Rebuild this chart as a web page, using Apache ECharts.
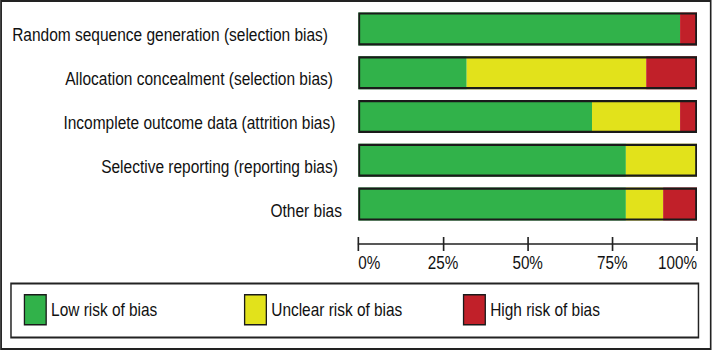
<!DOCTYPE html>
<html>
<head>
<meta charset="utf-8">
<title>Risk of bias</title>
<script src="https://cdn.jsdelivr.net/npm/echarts@6/dist/echarts.min.js"></script>
<style>
    html, body { margin: 0; padding: 0; background: #fff; overflow: hidden; }
    /* 原图文字是横向压缩的，整体横向缩放 0.82 */
    .bias { width: 868px; height: 350px; transform: scaleX(0.82); transform-origin: 0 0; }
</style>
</head>
<body>
<div class="bias"></div>
<script>
// 数据
var categories = [
    'Random sequence generation (selection bias)',
    'Allocation concealment (selection bias)',
    'Incomplete outcome data (attrition bias)',
    'Selective reporting (reporting bias)',
    'Other bias'
];
var lowRisk = [95, 32, 69, 79, 79];
var unclearRisk = [0, 53, 26, 21, 11];
var highRisk = [5, 15, 5, 0, 10];
var tickLabels = ['0%', '25%', '50%', '75%', '100%'];

// 标签右侧留白（原图每行略有错位）
var labelPad = [17, 11, 8, 5, 0];

var fontName = '"Liberation Sans", Arial, sans-serif';
var textColor = '#111';

// 每个条形的总长度，用来画外边框
var totals = lowRisk.map(function (v, i) { return v + unclearRisk[i] + highRisk[i]; });

var myChart = echarts.init(document.querySelector('.bias'), null, { renderer: 'svg' });

// 每行标签用 rich 样式，整体下移一点
var richStyles = {};
labelPad.forEach(function (p, i) {
    richStyles['r' + i] = {
        fontFamily: fontName,
        fontSize: 18.9,
        color: textColor,
        padding: [12, p, 0, 0]
    };
});

var option = {
    animation: false,
    textStyle: { fontFamily: fontName },
    grid: { left: 437, right: 18, top: 7, bottom: 124, containLabel: false, outerBoundsMode: 'none' },
    legend: [
        { data: ['Low risk of bias'], left: 29 },
        { data: ['Unclear risk of bias'], left: 297.5 },
        { data: ['High risk of bias'], left: 564.5 }
    ].map(function (l) {
        l.top = 294;
        l.padding = 0;
        l.icon = 'rect';
        l.itemWidth = 26.5;
        l.itemHeight = 30;
        l.selectedMode = false;
        l.itemStyle = { borderColor: '#1a1a1a', borderWidth: 1.6 };
        l.textStyle = { fontFamily: fontName, fontSize: 18.8, color: textColor, padding: [0, 0, 0, 1] };
        return l;
    }),
    xAxis: [
        {
            type: 'value',
            min: 0,
            max: 100,
            interval: 25,
            position: 'bottom',
            offset: 18,
            axisLine: { show: true, lineStyle: { color: '#222', width: 1.6 } },
            axisTick: { show: true, length: 7, lineStyle: { color: '#222', width: 2 } },
            splitLine: { show: false },
            axisLabel: {
                margin: 9,
                fontFamily: fontName,
                fontSize: 18.6,
                color: textColor,
                alignMinLabel: 'left',
                alignMaxLabel: 'right',
                formatter: function (v) { return tickLabels[v / 25]; }
            }
        },
        {
            // 上半截刻度
            type: 'value',
            min: 0,
            max: 100,
            interval: 25,
            position: 'bottom',
            offset: 18,
            axisLine: { show: false },
            axisTick: { show: true, inside: true, length: 7, lineStyle: { color: '#222', width: 2 } },
            splitLine: { show: false },
            axisLabel: { show: false }
        }
    ],
    yAxis: {
        type: 'category',
        inverse: true,
        data: categories,
        axisLine: { show: false },
        axisTick: { show: false },
        axisLabel: {
            margin: 20,
            fontFamily: fontName,
            fontSize: 18.9,
            color: textColor,
            formatter: function (v, i) { return '{r' + i + '|' + v + '}'; },
            rich: richStyles
        }
    },
    series: [
        {
            name: 'Low risk of bias',
            type: 'bar',
            stack: 'rob',
            barWidth: 33,
            data: lowRisk,
            itemStyle: { color: '#31b24a' }
        },
        {
            name: 'Unclear risk of bias',
            type: 'bar',
            stack: 'rob',
            data: unclearRisk,
            itemStyle: { color: '#e2e21b' }
        },
        {
            name: 'High risk of bias',
            type: 'bar',
            stack: 'rob',
            data: highRisk,
            itemStyle: { color: '#c12029' }
        },
        {
            name: 'outline',
            type: 'bar',
            barWidth: 33,
            barGap: '-100%',
            silent: true,
            data: totals,
            itemStyle: { color: 'transparent', borderColor: '#1a1a1a', borderWidth: 2.2 }
        }
    ],
    graphic: [
        {
            type: 'rect',
            shape: { x: 1.3, y: 1, width: 865.5, height: 348 },
            style: { fill: 'none', stroke: '#222', lineWidth: 2.2 }
        },
        {
            type: 'rect',
            shape: { x: 13.4, y: 283.5, width: 838.4, height: 54 },
            style: { fill: 'none', stroke: '#222', lineWidth: 1.8 }
        }
    ]
};

myChart.setOption(option);
</script>
</body>
</html>
